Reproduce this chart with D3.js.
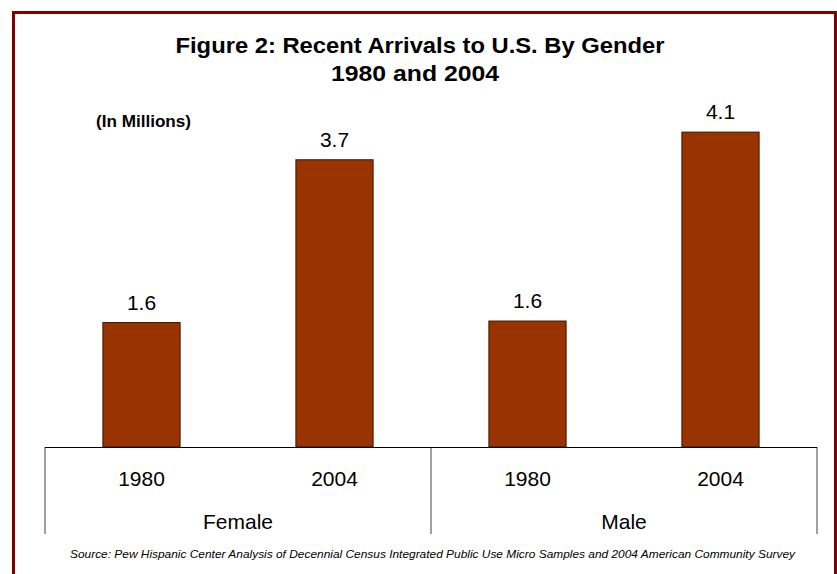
<!DOCTYPE html>
<html>
<head>
<meta charset="utf-8">
<script src="https://cdn.jsdelivr.net/npm/d3@7"></script>
<style>
  body { margin: 0; background: #fff; }
  svg { display: block; font-family: Arial, "Liberation Sans", sans-serif; }
</style>
</head>
<body>
<div id="chart"></div>
<script>
// data
const groups = ["Female", "Male"];
const years = ["1980", "2004"];
const values = [1.62, 3.74, 1.64, 4.1]; // Female 1980, Female 2004, Male 1980, Male 2004
const valueLabels = ["1.6", "3.7", "1.6", "4.1"];

const W = 837, H = 574;
const left = 45, right = 817, baseY = 447, axisBottom = 534;

const svg = d3.select("#chart").append("svg")
    .attr("width", W)
    .attr("height", H);

// frame
svg.append("rect")
    .attr("x", 13.5).attr("y", 12.5)
    .attr("width", 822).attr("height", 600)
    .attr("fill", "none")
    .attr("stroke", "#800000")
    .attr("stroke-width", 3);

// title (reference text is a bit wider than plain Arial)
svg.append("text")
    .attr("x", 420).attr("y", 53)
    .attr("text-anchor", "middle")
    .attr("font-size", 22).attr("font-weight", "bold")
    .attr("textLength", 489).attr("lengthAdjust", "spacingAndGlyphs")
    .text("Figure 2: Recent Arrivals to U.S. By Gender");
svg.append("text")
    .attr("x", 415).attr("y", 81)
    .attr("text-anchor", "middle")
    .attr("font-size", 22).attr("font-weight", "bold")
    .attr("textLength", 168).attr("lengthAdjust", "spacingAndGlyphs")
    .text("1980 and 2004");

svg.append("text")
    .attr("x", 96).attr("y", 127)
    .attr("font-size", 16).attr("font-weight", "bold")
    .attr("textLength", 95).attr("lengthAdjust", "spacingAndGlyphs")
    .text("(In Millions)");

// scales
let keys = [];
groups.forEach(g => years.forEach(y => keys.push(g + "|" + y)));

let x = d3.scaleBand()
    .domain(keys)
    .range([left, right])
    .paddingInner(0.6)
    .paddingOuter(0.3);

let y = d3.scaleLinear()
    .domain([0, 5])
    .range([baseY, baseY - 384]);

// bars
svg.selectAll(".bar")
    .data(values)
    .enter().append("rect")
    .attr("class", "bar")
    .attr("x", (d, i) => x(keys[i]))
    .attr("y", d => y(d))
    .attr("width", x.bandwidth())
    .attr("height", d => y(0) - y(d))
    .attr("fill", "#993300")
    .attr("stroke", "#3b1400")
    .attr("stroke-width", 1);

// value labels
svg.selectAll(".val")
    .data(values)
    .enter().append("text")
    .attr("class", "val")
    .attr("x", (d, i) => x(keys[i]) + x.bandwidth() / 2)
    .attr("y", d => y(d) - 13)
    .attr("text-anchor", "middle")
    .attr("font-size", 21)
    .text((d, i) => valueLabels[i]);

// x axis (years)
let xAxis = d3.axisBottom(x)
    .tickSize(0)
    .tickPadding(0)
    .tickFormat(k => k.split("|")[1]);

let gx = svg.append("g")
    .attr("transform", "translate(0," + baseY + ")")
    .call(xAxis);
gx.select(".domain").remove();
gx.selectAll("text")
    .attr("dy", null)
    .attr("y", 39)
    .attr("font-size", 21)
    .attr("font-family", "Arial, 'Liberation Sans', sans-serif")
    .attr("fill", "#000");

// group separators
let step = x.step();
let bounds = [left, left + step * 2, right];
svg.selectAll(".sep")
    .data(bounds)
    .enter().append("line")
    .attr("x1", d => d).attr("x2", d => d)
    .attr("y1", baseY).attr("y2", axisBottom)
    .attr("stroke", "#808080")
    .attr("stroke-width", 1.5);

// baseline
svg.append("line")
    .attr("x1", left).attr("x2", right)
    .attr("y1", baseY + 0.5).attr("y2", baseY + 0.5)
    .attr("stroke", "#000")
    .attr("stroke-width", 1);

// group labels
svg.selectAll(".grp")
    .data(groups)
    .enter().append("text")
    .attr("x", (g, i) => (bounds[i] + bounds[i + 1]) / 2)
    .attr("y", 529)
    .attr("text-anchor", "middle")
    .attr("font-size", 21)
    .text(g => g);

// source
svg.append("text")
    .attr("x", 70).attr("y", 558)
    .attr("font-size", 11.5)
    .attr("font-style", "italic")
    .attr("textLength", 725).attr("lengthAdjust", "spacingAndGlyphs")
    .text("Source: Pew Hispanic Center Analysis of Decennial Census Integrated Public Use Micro Samples and 2004 American Community Survey");
</script>
</body>
</html>
